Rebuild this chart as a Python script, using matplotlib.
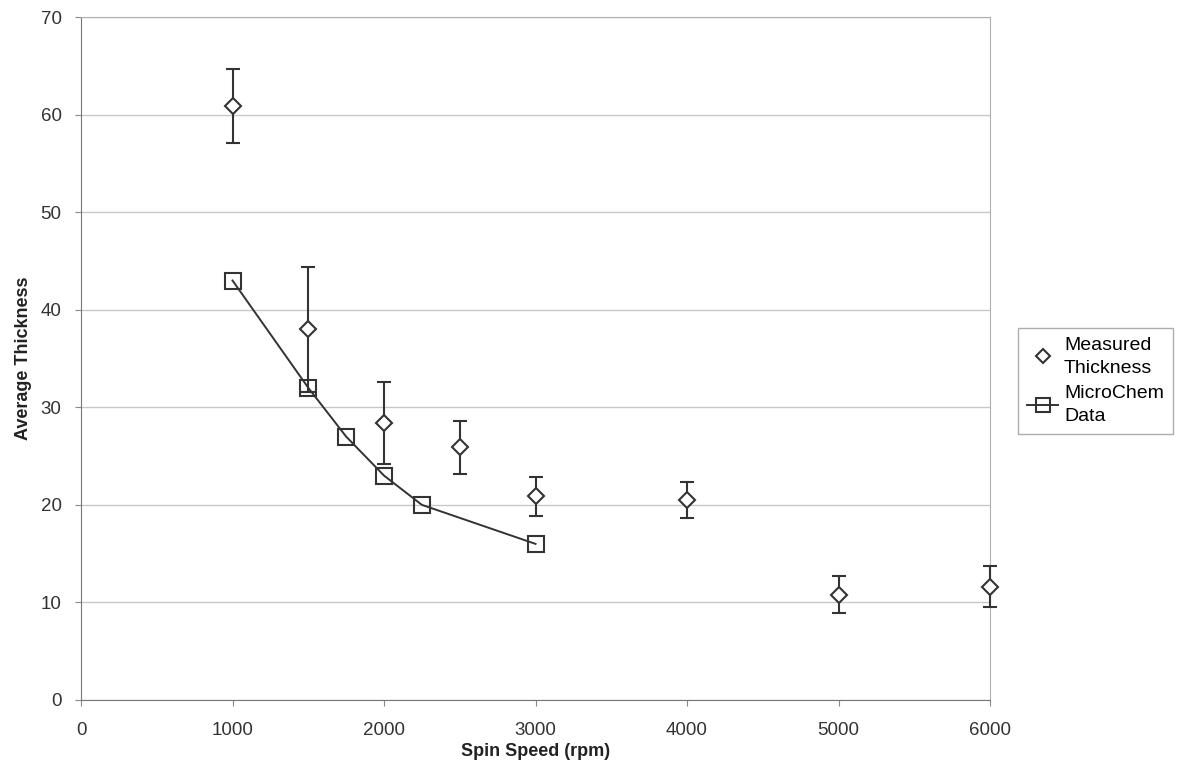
import matplotlib.pyplot as plt
from matplotlib.lines import Line2D

plt.rcParams['font.family'] = ['Liberation Sans', 'DejaVu Sans']

# Measured thickness (with std dev error bars)
measured_speed = [1000, 1500, 2000, 2500, 3000, 4000, 5000, 6000]
measured_thickness = [60.9, 38.0, 28.4, 25.9, 20.9, 20.5, 10.8, 11.6]
measured_err = [3.8, 6.4, 4.2, 2.7, 2.0, 1.8, 1.9, 2.1]

# MicroChem datasheet values
chem_speed = [1000, 1500, 1750, 2000, 2250, 3000]
chem_thickness = [43, 32, 27, 23, 20, 16]

INK = "#333333"

fig = plt.figure(figsize=(11.81, 7.78), dpi=100)
ax = fig.add_axes([0.0686, 0.1003, 0.7697, 0.8777])

eb = ax.errorbar(measured_speed, measured_thickness, yerr=measured_err, fmt="D",
                 ms=8, mfc="white", mec=INK, mew=1.5, ecolor=INK, elinewidth=1.5,
                 capsize=5, capthick=1.5, zorder=3)
for art in eb.lines[0:1] + tuple(eb.lines[1]) + tuple(eb.lines[2]):
    art.set_clip_on(False)
ax.plot(chem_speed, chem_thickness, "-s", color=INK, lw=1.4, ms=12,
        mfc="none", mec=INK, mew=1.5, zorder=4)

ax.set_xlim(0, 6000)
ax.set_ylim(0, 70)
ax.set_xticks(range(0, 6001, 1000))
ax.set_yticks(range(0, 71, 10))
ax.grid(axis="y", color="#c8c8c8", lw=1)
ax.set_axisbelow(True)

for s in ["top", "right"]:
    ax.spines[s].set_color("#b0b0b0")
for s in ["left", "bottom"]:
    ax.spines[s].set_color("#777777")
ax.tick_params(direction="out", length=4, color="#888888", labelsize=13.5,
               labelcolor="#333333")
ax.tick_params(axis="x", pad=12)
ax.tick_params(axis="y", pad=10)

ax.set_xlabel("Spin Speed (rpm)", fontsize=13, fontweight="bold", labelpad=3, color="#222222")
ax.set_ylabel("Average Thickness", fontsize=13, fontweight="bold", labelpad=6, color="#222222")

handles = [
    Line2D([], [], ls="none", marker="D", ms=7, mfc="white", mec=INK, mew=1.5),
    Line2D([], [], ls="-", color=INK, lw=1.4, marker="s", ms=10, mfc="none", mec=INK, mew=1.5),
]
labels = ["Measured\nThickness", "MicroChem\nData"]
leg = ax.legend(handles, labels, loc="center left", bbox_to_anchor=(1.031, 0.467),
                fontsize=14, frameon=True, fancybox=False, edgecolor="#999999",
                handlelength=1.6, handletextpad=0.3, borderpad=0.45, labelspacing=0.45,
                borderaxespad=0)
for t in leg.get_texts():
    t.set_linespacing(1.45)
leg.get_frame().set_linewidth(1)

fig.savefig("out.png", dpi=100)
